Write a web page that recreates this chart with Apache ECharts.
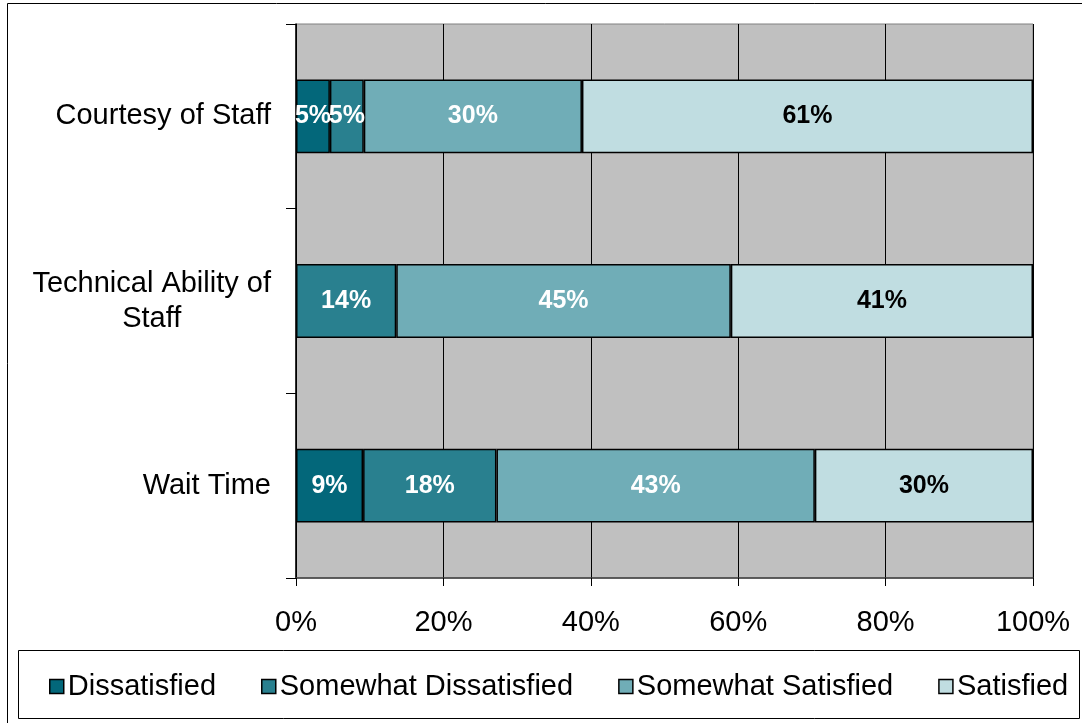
<!DOCTYPE html>
<html>
<head>
<meta charset="utf-8">
<script src="https://cdn.jsdelivr.net/npm/echarts@6/dist/echarts.min.js"></script>
<style>
html,body{margin:0;padding:0;background:#fff;}
#c{width:1082px;height:723px;}
</style>
</head>
<body>
<div id="c"></div>
<script>
var categories = ['Courtesy of Staff', 'Technical Ability of\nStaff', 'Wait Time'];
var seriesNames = ['Dissatisfied', 'Somewhat Dissatisfied', 'Somewhat Satisfied', 'Satisfied'];
var dissatisfied = [4.6, 0, 9.1];
var somewhatDissatisfied = [4.6, 13.6, 18.1];
var somewhatSatisfied = [29.6, 45.4, 43.2];
var satisfied = [61.2, 41.0, 29.6];
var xTicks = [0, 20, 40, 60, 80, 100];

var colors = ['#03677A', '#29808F', '#70ADB7', '#C0DDE1'];
var labelColors = ['#ffffff', '#ffffff', '#ffffff', '#000000'];
var FONT = "'Liberation Sans', Arial, sans-serif";
var values = [dissatisfied, somewhatDissatisfied, somewhatSatisfied, satisfied];

var chart = echarts.init(document.getElementById('c'), null, {renderer: 'canvas'});

var series = seriesNames.map(function (name, i) {
  return {
    name: name,
    type: 'bar',
    stack: 'total',
    barWidth: '40%',
    data: values[i].map(function (v) { return v === 0 ? null : v; }),
    itemStyle: {color: colors[i], borderColor: '#000', borderWidth: 1.5},
    label: {
      show: true,
      position: 'inside',
      color: labelColors[i],
      fontFamily: FONT,
      fontWeight: 'bold',
      fontSize: 25,
      formatter: function (p) { return Math.round(p.value) + '%'; }
    },
    emphasis: {disabled: true}
  };
});

chart.setOption({
  animation: false,
  textStyle: {fontFamily: FONT},
  graphic: [
    {type: 'rect', shape: {x: 7.5, y: 3.5, width: 1100, height: 800}, style: {fill: 'none', stroke: '#000', lineWidth: 1}, z: -10},
    {type: 'rect', shape: {x: 18.5, y: 650.5, width: 1061, height: 68}, style: {fill: '#fff', stroke: '#000', lineWidth: 1}, z: -5}
  ],
  grid: {
    left: 296, top: 24, right: 49, bottom: 145,
    show: true, backgroundColor: '#C0C0C0', borderColor: '#808080', borderWidth: 1
  },
  legend: {
    left: 44, top: 667,
    itemWidth: 14, itemHeight: 14, itemGap: 45,
    icon: 'rect',
    textStyle: {fontSize: 29, color: '#000', fontFamily: FONT, padding: [0, 0, 0, -1]},
    data: seriesNames.map(function (n, i) {
      return {name: n, itemStyle: {color: colors[i], borderColor: '#000', borderWidth: 1.5}};
    })
  },
  xAxis: {
    type: 'value', min: 0, max: 100, interval: 20,
    axisLine: {show: true, lineStyle: {color: '#404040', width: 1.5}},
    axisTick: {show: true, length: 8, lineStyle: {color: '#000'}},
    splitLine: {show: true, lineStyle: {color: '#000', width: 1}},
    axisLabel: {
      fontSize: 29, color: '#000', margin: 30, fontFamily: FONT,
      formatter: function (v) { return xTicks.indexOf(v) >= 0 ? v + '%' : ''; }
    }
  },
  yAxis: {
    type: 'category', inverse: true, data: categories,
    axisLine: {show: true, lineStyle: {color: '#000', width: 1.5}},
    axisTick: {show: true, length: 10, lineStyle: {color: '#000'}},
    axisLabel: {
      fontSize: 29, color: '#000', margin: 25, align: 'right', lineHeight: 35, fontFamily: FONT,
      formatter: function (v) {
        return v.split('\n').map(function (s) { return '{a|' + s + '}'; }).join('\n');
      },
      rich: {a: {fontSize: 29, lineHeight: 35, align: 'center', color: '#000', fontFamily: FONT}}
    }
  },
  series: series
});
</script>
</body>
</html>
